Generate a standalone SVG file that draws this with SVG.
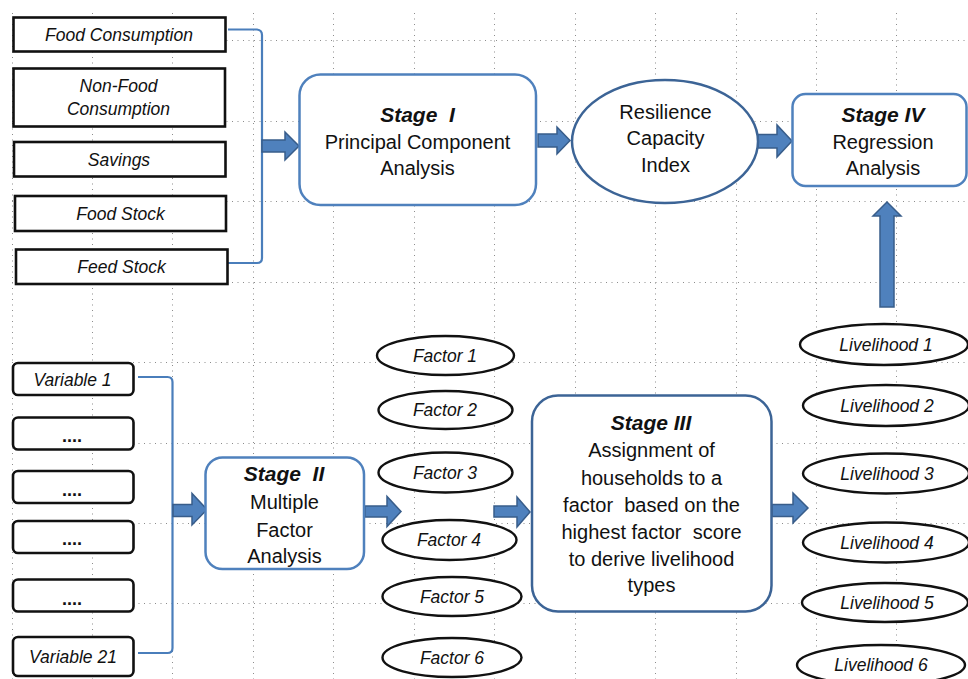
<svg xmlns="http://www.w3.org/2000/svg" width="968" height="679" viewBox="0 0 968 679">
<style>
  .grid line { stroke:#8c8c8c; stroke-width:1; stroke-dasharray:1 4.5; }
  .sq { fill:#fff; stroke:#111; stroke-width:2.6; }
  .el { fill:#fff; stroke:#111; stroke-width:2.4; }
  .stage { fill:#fff; stroke:#4f81bd; stroke-width:2.5; }
  .stage2 { fill:#fff; stroke:#3c6496; stroke-width:2.5; }
  .bracket { fill:none; stroke:#4a7ebb; stroke-width:2.2; }
  .arr { fill:#4f81bd; stroke:#385d8a; stroke-width:1.5; stroke-linejoin:miter; }
  text { font-family:"Liberation Sans", Arial, sans-serif; fill:#111; text-anchor:middle; }
  .it { font-style:italic; font-size:17.5px; }
  .big { font-size:20px; }
  .st { font-size:21px; font-weight:bold; font-style:italic; }
  .dots { font-size:18px; font-weight:bold; }
</style>
<rect x="0" y="0" width="968" height="679" fill="#fff"/>
<g class="grid">
  <line x1="12.5" y1="13" x2="12.5" y2="679"/>
  <line x1="92.5" y1="13" x2="92.5" y2="679"/>
  <line x1="172.5" y1="13" x2="172.5" y2="679"/>
  <line x1="253.5" y1="13" x2="253.5" y2="679"/>
  <line x1="333.5" y1="13" x2="333.5" y2="679"/>
  <line x1="414.5" y1="13" x2="414.5" y2="679"/>
  <line x1="494.5" y1="13" x2="494.5" y2="679"/>
  <line x1="575.5" y1="13" x2="575.5" y2="679"/>
  <line x1="655.5" y1="13" x2="655.5" y2="679"/>
  <line x1="736.5" y1="13" x2="736.5" y2="679"/>
  <line x1="816.5" y1="13" x2="816.5" y2="679"/>
  <line x1="896.5" y1="13" x2="896.5" y2="679"/>
  <line x1="12" y1="40.5" x2="968" y2="40.5"/>
  <line x1="12" y1="121.5" x2="968" y2="121.5"/>
  <line x1="12" y1="201.5" x2="968" y2="201.5"/>
  <line x1="12" y1="282.5" x2="968" y2="282.5"/>
  <line x1="12" y1="362.5" x2="968" y2="362.5"/>
  <line x1="12" y1="443.5" x2="968" y2="443.5"/>
  <line x1="12" y1="523.5" x2="968" y2="523.5"/>
  <line x1="12" y1="603.5" x2="968" y2="603.5"/>
</g>

<g id="connectors">
  <path class="bracket" d="M228,29.5 L257,29.5 Q262,30 262,35 L262,258 Q262,263 257,263 L228,263"/>
  <path class="bracket" d="M138,377 L167.5,377 Q172.5,377 172.5,382 L172.5,648 Q172.5,653 167.5,653 L138,653"/>
  <polygon class="arr" points="262,140 285,140 285,132 299,146 285,160 285,152 262,152"/>
  <polygon class="arr" points="538,134 557,134 557,127 570,140.5 557,154 557,147 538,147"/>
  <polygon class="arr" points="758,134.5 777,134.5 777,125 792,141 777,157 777,148 758,148"/>
  <polygon class="arr" points="880,307 880,216 873,216 887,202 901,216 894,216 894,307"/>
  <polygon class="arr" points="173,504.5 192,504.5 192,493.5 207,509.5 192,525 192,516.5 173,516.5"/>
  <polygon class="arr" points="365,506 387,506 387,496.5 401,511.5 387,526.5 387,517 365,517"/>
  <polygon class="arr" points="494,506 517,506 517,497 530,512 517,527 517,517 494,517"/>
  <polygon class="arr" points="772,504.5 793,504.5 793,493 808,508 793,523 793,516.5 772,516.5"/>
</g>

<g id="food-consumption"><rect class="sq" x="13.5" y="17.5" width="212" height="34"/><text class="it" x="119" y="40.5">Food Consumption</text></g>
<g id="non-food-consumption"><rect class="sq" x="13.5" y="68.5" width="211.5" height="58"/><text class="it" x="118.5" y="91.5">Non-Food</text><text class="it" x="118.5" y="115">Consumption</text></g>
<g id="savings"><rect class="sq" x="14" y="142" width="211.5" height="34.5"/><text class="it" x="119" y="165.5">Savings</text></g>
<g id="food-stock"><rect class="sq" x="15" y="196" width="211" height="35"/><text class="it" x="120.5" y="219.5">Food Stock</text></g>
<g id="feed-stock"><rect class="sq" x="16" y="249.5" width="211.5" height="34.5"/><text class="it" x="121.5" y="272.5">Feed Stock</text></g>

<g id="stage-1"><rect class="stage" x="299.5" y="74.5" width="236.5" height="130.5" rx="21"/>
  <text class="st" x="417.5" y="121.5" xml:space="preserve">Stage  I</text>
  <text class="big" x="417.5" y="148.5">Principal Component</text>
  <text class="big" x="417.5" y="175">Analysis</text></g>

<g id="resilience-index"><ellipse cx="665" cy="141.5" rx="93" ry="61.5" fill="#fff" stroke="#3c6496" stroke-width="2.5"/>
  <text class="big" x="665.5" y="118.5">Resilience</text>
  <text class="big" x="665.5" y="145">Capacity</text>
  <text class="big" x="665.5" y="171.5">Index</text></g>

<g id="stage-4"><rect class="stage" x="792.5" y="94" width="174" height="92" rx="13"/>
  <text class="st" x="883" y="121.5">Stage IV</text>
  <text class="big" x="883" y="148.5">Regression</text>
  <text class="big" x="883" y="175">Analysis</text></g>

<g id="variable-1"><rect class="sq" x="13" y="363" width="120.5" height="32" rx="5"/><text class="it" x="72.5" y="386">Variable 1</text></g>
<g id="variable-2"><rect class="sq" x="13" y="417.5" width="120.5" height="32" rx="5"/><text class="dots" x="72" y="442">....</text></g>
<g id="variable-3"><rect class="sq" x="13" y="471" width="120.5" height="32" rx="5"/><text class="dots" x="72" y="495.5">....</text></g>
<g id="variable-4"><rect class="sq" x="13" y="521" width="120.5" height="32" rx="5"/><text class="dots" x="72" y="545">....</text></g>
<g id="variable-5"><rect class="sq" x="13" y="579.5" width="120.5" height="32" rx="5"/><text class="dots" x="72" y="604.5">....</text></g>
<g id="variable-21"><rect class="sq" x="13" y="637" width="120.5" height="39" rx="5"/><text class="it" x="73" y="663">Variable 21</text></g>

<g id="stage-2"><rect class="stage" x="205.5" y="457.5" width="158.5" height="111.5" rx="17"/>
  <text class="st" x="284" y="480.5" xml:space="preserve">Stage  II</text>
  <text class="big" x="284.5" y="508.5">Multiple</text>
  <text class="big" x="284.5" y="536.5">Factor</text>
  <text class="big" x="284.5" y="563">Analysis</text></g>

<g id="factor-1"><ellipse class="el" cx="445.5" cy="355.5" rx="68.5" ry="19.5"/><text class="it" x="445" y="361.5">Factor 1</text></g>
<g id="factor-2"><ellipse class="el" cx="445.5" cy="410" rx="67" ry="19"/><text class="it" x="445" y="416">Factor 2</text></g>
<g id="factor-3"><ellipse class="el" cx="445.5" cy="472.5" rx="67" ry="20"/><text class="it" x="445" y="478.5">Factor 3</text></g>
<g id="factor-4"><ellipse class="el" cx="449.5" cy="540" rx="67" ry="20"/><text class="it" x="449" y="546">Factor 4</text></g>
<g id="factor-5"><ellipse class="el" cx="452" cy="596.5" rx="69.5" ry="19.5"/><text class="it" x="452" y="602.5">Factor 5</text></g>
<g id="factor-6"><ellipse class="el" cx="452" cy="657.5" rx="69.5" ry="19.5"/><text class="it" x="452" y="663.5">Factor 6</text></g>

<g id="stage-3"><rect class="stage2" x="532" y="395.5" width="239.5" height="216" rx="26"/>
  <text class="st" x="651" y="430">Stage III</text>
  <text class="big" x="651.5" y="457">Assignment of</text>
  <text class="big" x="651.5" y="484.5">households to a</text>
  <text class="big" x="651.5" y="511.5" xml:space="preserve">factor  based on the</text>
  <text class="big" x="651.5" y="538.5" xml:space="preserve">highest factor  score</text>
  <text class="big" x="651.5" y="565.5">to derive livelihood</text>
  <text class="big" x="651.5" y="592">types</text></g>

<g id="livelihood-1"><ellipse class="el" cx="884" cy="344.5" rx="84" ry="20.5"/><text class="it" x="886" y="350.5">Livelihood 1</text></g>
<g id="livelihood-2"><ellipse class="el" cx="886" cy="405.5" rx="83" ry="20.5"/><text class="it" x="887" y="411.5">Livelihood 2</text></g>
<g id="livelihood-3"><ellipse class="el" cx="886" cy="473.5" rx="83" ry="20"/><text class="it" x="887" y="479.5">Livelihood 3</text></g>
<g id="livelihood-4"><ellipse class="el" cx="886" cy="542.5" rx="83" ry="20"/><text class="it" x="887" y="548.5">Livelihood 4</text></g>
<g id="livelihood-5"><ellipse class="el" cx="885" cy="602.5" rx="83" ry="19.5"/><text class="it" x="887" y="608.5">Livelihood 5</text></g>
<g id="livelihood-6"><ellipse class="el" cx="881" cy="665" rx="84" ry="20"/><text class="it" x="881" y="671">Livelihood 6</text></g>
</svg>
